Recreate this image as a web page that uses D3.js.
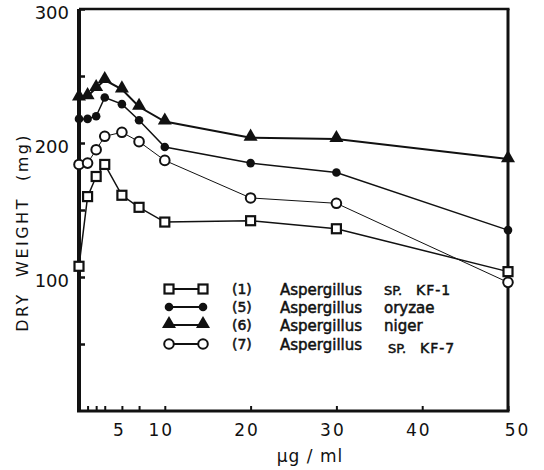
<!DOCTYPE html>
<html>
<head>
<meta charset="utf-8">
<script src="https://cdn.jsdelivr.net/npm/d3@7"></script>
<style>
  body { margin: 0; background: #fff; }
  text { font-family: "DejaVu Sans", sans-serif; fill: #111; }
  .leg text { stroke: #111; stroke-width: 0.5px; }
</style>
</head>
<body>
<svg id="chart"></svg>
<script>
// concentrations (ug/ml)
var conc = [0, 1, 2, 3, 5, 7, 10, 20, 30, 50];

// dry weight (mg) per strain
var kf1    = [108, 160, 175, 184, 161, 152, 141, 142, 136, 104];
var oryzae = [218, 218, 220, 234, 229, 217, 197, 185, 178, 135];
var niger  = [234, 235, 241, 247, 240, 227, 216, 204, 203, 188];
var kf7    = [184, 185, 195, 205, 208, 201, 187, 159, 155, 96];

var xTicks = [1, 2, 3, 5, 7, 10, 20, 30, 40, 50];
var xLabels = [5, 10, 20, 30, 40, 50];
var yTicks = [50, 100, 150, 200, 250, 300];
var yLabels = [100, 200, 300];

var series = [
    { num: "(1)", name: "Aspergillus", sp: "SP.", extra: "KF-1", values: kf1, mark: "square", lw: 1.5 },
    { num: "(5)", name: "Aspergillus", sp: "oryzae", extra: "", values: oryzae, mark: "dot", lw: 1.5 },
    { num: "(6)", name: "Aspergillus", sp: "niger", extra: "", values: niger, mark: "triangle", lw: 2 },
    { num: "(7)", name: "Aspergillus", sp: "SP.", extra: "KF-7", values: kf7, mark: "circle", lw: 1 }
];

var svg = d3.select("svg#chart")
    .attr("width", 544)
    .attr("height", 470);

var x = d3.scaleLinear().domain([0, 50]).range([79, 508]);
var y = d3.scaleLinear().domain([0, 300]).range([411, 9]);

// axes, ticks pointing inward
var yAxis = d3.axisLeft(y)
    .tickValues(yTicks)
    .tickSizeInner(-6)
    .tickSizeOuter(0)
    .tickPadding(10)
    .tickFormat(function(d) { return yLabels.indexOf(d) >= 0 ? d : ""; });

var gy = svg.append("g").attr("transform", "translate(" + x(0) + ",0)").call(yAxis);
gy.select(".domain").remove();
gy.selectAll(".tick line").attr("stroke", "#111").attr("stroke-width", 2.5);
gy.selectAll(".tick text").style("font-size", "18px").attr("dy", "0.55em");

var xAxis = d3.axisBottom(x)
    .tickValues(xTicks)
    .tickSizeInner(-5)
    .tickSizeOuter(0)
    .tickPadding(13)
    .tickFormat(function(d) { return xLabels.indexOf(d) >= 0 ? d : ""; });

var gx = svg.append("g").attr("transform", "translate(0," + y(0) + ")").call(xAxis);
gx.select(".domain").remove();
gx.selectAll(".tick line").attr("stroke", "#111").attr("stroke-width", 2);
gx.selectAll(".tick text").style("font-size", "17px").style("letter-spacing", "2px")
    .attr("dx", function(d) { return d === 50 ? 9 : (d === 5 ? -3 : -4); });

// frame
svg.append("line").attr("x1", x(0)).attr("x2", x(0)).attr("y1", y(300)).attr("y2", y(0))
    .attr("stroke", "#111").attr("stroke-width", 4);
svg.append("line").attr("x1", x(0) - 2).attr("x2", x(50) + 1.5).attr("y1", y(0)).attr("y2", y(0))
    .attr("stroke", "#111").attr("stroke-width", 3);
svg.append("line").attr("x1", x(50)).attr("x2", x(50)).attr("y1", y(300)).attr("y2", y(0))
    .attr("stroke", "#111").attr("stroke-width", 3);
svg.append("line").attr("x1", x(0)).attr("x2", x(50) + 1.5).attr("y1", y(300)).attr("y2", y(300))
    .attr("stroke", "#111").attr("stroke-width", 2.5);

// axis titles
var yTitle = [["DRY", 312], ["WEIGHT", 237], ["(mg)", 157]];
yTitle.forEach(function(t) {
    svg.append("text")
        .attr("transform", "translate(28," + t[1] + ") rotate(-90)")
        .attr("text-anchor", "middle")
        .style("font-size", "16px")
        .style("letter-spacing", "2.5px")
        .text(t[0]);
});

svg.append("text")
    .attr("x", 310).attr("y", 462)
    .attr("text-anchor", "middle")
    .style("font-size", "17px")
    .style("letter-spacing", "1px")
    .text("\u00b5g / ml");

// markers
function drawMark(g, type, cx, cy) {
    if (type === "square") {
        g.append("rect").attr("x", cx - 4.5).attr("y", cy - 4.5).attr("width", 9).attr("height", 9)
            .attr("fill", "#fff").attr("stroke", "#111").attr("stroke-width", 2.2);
    } else if (type === "dot") {
        g.append("circle").attr("cx", cx).attr("cy", cy).attr("r", 4.3).attr("fill", "#111");
    } else if (type === "triangle") {
        g.append("path").attr("d", d3.symbol().type(d3.symbolTriangle).size(85)())
            .attr("transform", "translate(" + cx + "," + (cy - 1) + ")").attr("fill", "#111");
    } else {
        g.append("circle").attr("cx", cx).attr("cy", cy).attr("r", 4.8)
            .attr("fill", "#fff").attr("stroke", "#111").attr("stroke-width", 2);
    }
}

var line = d3.line()
    .x(function(d, i) { return x(conc[i]); })
    .y(function(d) { return y(d); });

series.forEach(function(s) {
    svg.append("path")
        .datum(s.values)
        .attr("d", line)
        .attr("fill", "none")
        .attr("stroke", "#111")
        .attr("stroke-width", s.lw);
});

series.forEach(function(s) {
    var g = svg.append("g");
    s.values.forEach(function(v, i) { drawMark(g, s.mark, x(conc[i]), y(v)); });
});

// legend
var legRows = [289, 307, 325, 344];
series.forEach(function(s, i) {
    var ly = legRows[i];
    var g = svg.append("g").attr("class", "leg");
    g.append("line").attr("x1", 169).attr("x2", 203).attr("y1", ly).attr("y2", ly)
        .attr("stroke", "#111").attr("stroke-width", 2);
    drawMark(g, s.mark, 169, ly);
    drawMark(g, s.mark, 203, ly);
    g.append("text").attr("x", 232).attr("y", ly + 5)
        .style("font-size", "14px").text(s.num);
    g.append("text").attr("x", 280).attr("y", ly + 6)
        .style("font-size", "15px").text(s.name);
    var sy = i === 3 ? ly + 9 : ly + 6;
    g.append("text").attr("x", i === 3 ? 388 : 384).attr("y", sy)
        .style("font-size", s.sp === "SP." ? "13px" : "15px").text(s.sp);
    if (s.extra) {
        g.append("text").attr("x", i === 3 ? 420 : 416).attr("y", sy)
            .style("font-size", "14px").style("letter-spacing", "1px").text(s.extra);
    }
});
</script>
</body>
</html>
